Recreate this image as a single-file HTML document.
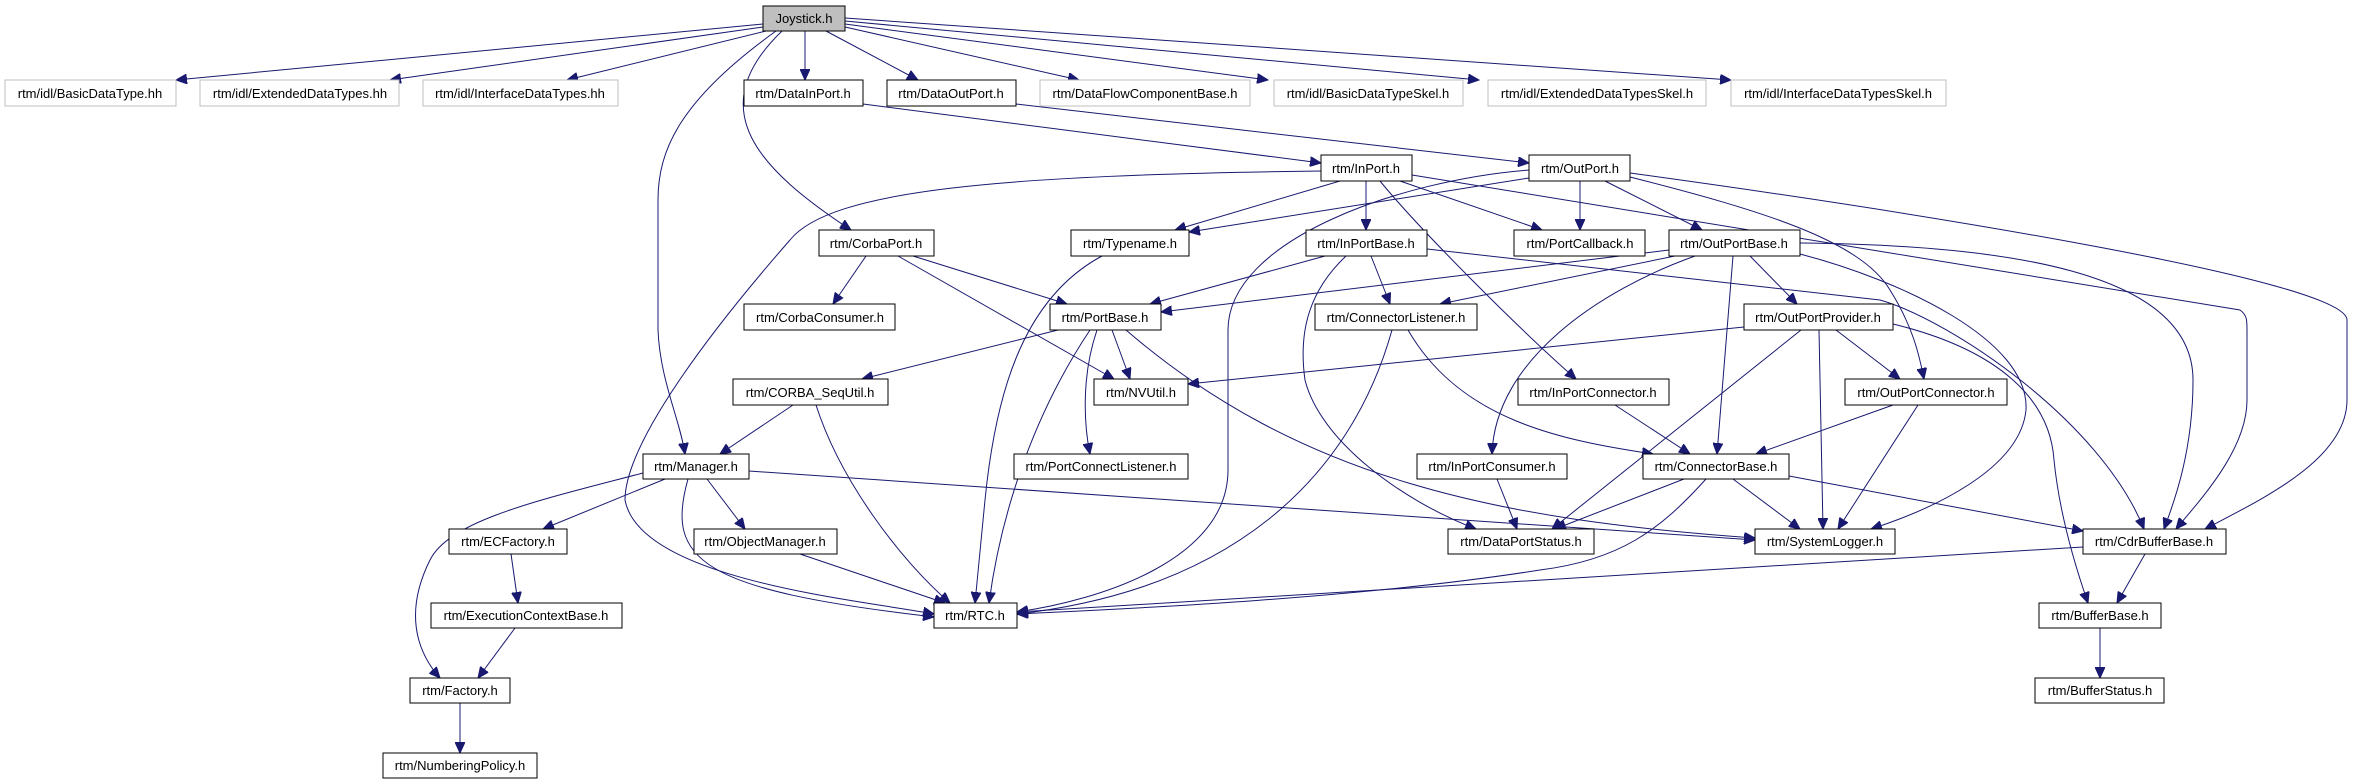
<!DOCTYPE html>
<html><head><meta charset="utf-8"><style>
html,body{margin:0;padding:0;background:#fff;}
svg{display:block;}
text{font-family:"Liberation Sans",sans-serif;font-size:13px;fill:#000;text-anchor:middle;}
.n{fill:#fff;stroke:#000;stroke-width:1;}
.g{fill:#fff;stroke:#bfbfbf;stroke-width:1;}
.e{fill:none;stroke:#191970;stroke-width:1;marker-end:url(#a);}
</style></head><body>
<svg width="2355" height="784" viewBox="0 0 2355 784" xmlns="http://www.w3.org/2000/svg">
<defs><marker id="a" markerWidth="12" markerHeight="10" refX="11" refY="5" orient="auto" markerUnits="userSpaceOnUse"><path d="M0,0 L11,5 L0,10 z" fill="#191970" stroke="#191970"/></marker></defs>
<g>
<path class="e" d="M763,24 L176,80"/>
<path class="e" d="M763,27 L390,80"/>
<path class="e" d="M766,31 L567,80"/>
<path class="e" d="M805,31 L805,80"/>
<path class="e" d="M826,31 L918,80"/>
<path class="e" d="M845,27 L1079,80"/>
<path class="e" d="M845,24 L1268,80"/>
<path class="e" d="M845,21 L1479,80"/>
<path class="e" d="M845,18 L1731,80"/>
<path class="e" d="M782,31 C700,110 760,170 851,230"/>
<path class="e" d="M776,31 C680,100 658,150 658,200 L658,330 C660,380 680,420 685,454"/>
<path class="e" d="M863,104 L1321,163"/>
<path class="e" d="M1016,104 L1529,163"/>
<path class="e" d="M1321,171 C1000,175 830,190 790,240 C720,320 625,440 625,500 C640,580 860,600 934,614"/>
<path class="e" d="M1529,170 C1400,180 1228,240 1228,330 L1228,470 C1228,560 1100,600 1017,612"/>
<path class="e" d="M1340,181 L1175,230"/>
<path class="e" d="M1529,178 L1189,232"/>
<path class="e" d="M1366,181 L1366,230"/>
<path class="e" d="M1400,181 L1542,230"/>
<path class="e" d="M1380,181 C1420,230 1520,330 1576,379"/>
<path class="e" d="M1412,175 L2240,310 C2247,315 2247,320 2247,330 L2247,400 C2247,450 2200,500 2176,529"/>
<path class="e" d="M1630,173 C1900,210 2347,280 2347,320 L2347,400 C2347,460 2260,500 2205,529"/>
<path class="e" d="M1427,249 L1880,300 C1950,320 2100,420 2144,529"/>
<path class="e" d="M1800,243 C2000,245 2193,270 2193,380 C2193,450 2175,500 2164,529"/>
<path class="e" d="M1580,181 L1580,230"/>
<path class="e" d="M1605,181 L1702,230"/>
<path class="e" d="M1630,177 C1760,210 1860,240 1890,290 C1915,330 1920,360 1924,379"/>
<path class="e" d="M866,256 L833,304"/>
<path class="e" d="M913,256 L1067,304"/>
<path class="e" d="M898,256 L1114,379"/>
<path class="e" d="M1102,256 C1020,300 995,400 985,500 L975,603"/>
<path class="e" d="M1325,256 L1150,304"/>
<path class="e" d="M1371,256 L1390,304"/>
<path class="e" d="M1346,256 C1310,290 1298,330 1305,380 C1320,440 1400,500 1476,529"/>
<path class="e" d="M1669,250 L1161,312"/>
<path class="e" d="M1675,256 L1440,304"/>
<path class="e" d="M1750,256 L1797,304"/>
<path class="e" d="M1695,256 C1600,290 1495,360 1492,454"/>
<path class="e" d="M1733,256 L1717,454"/>
<path class="e" d="M1800,254 C1900,280 2030,340 2026,410 C2020,470 1930,510 1871,529"/>
<path class="e" d="M1058,330 L862,379"/>
<path class="e" d="M1112,330 L1130,379"/>
<path class="e" d="M1090,330 C1030,420 1000,520 989,603"/>
<path class="e" d="M1097,330 C1080,380 1085,430 1090,454"/>
<path class="e" d="M1126,330 C1300,480 1500,520 1755,538"/>
<path class="e" d="M1408,330 C1460,420 1560,440 1653,454"/>
<path class="e" d="M1392,330 C1350,480 1230,590 1017,614"/>
<path class="e" d="M1744,327 L1188,384"/>
<path class="e" d="M1836,330 L1900,379"/>
<path class="e" d="M1819,330 L1823,529"/>
<path class="e" d="M1801,330 L1552,529"/>
<path class="e" d="M1893,324 C2000,350 2050,400 2054,460 C2060,520 2080,580 2088,603"/>
<path class="e" d="M793,405 L720,454"/>
<path class="e" d="M816,405 C840,480 900,560 950,603"/>
<path class="e" d="M1615,405 L1690,454"/>
<path class="e" d="M1893,405 L1756,454"/>
<path class="e" d="M1918,405 L1838,529"/>
<path class="e" d="M665,479 L543,529"/>
<path class="e" d="M707,479 L745,529"/>
<path class="e" d="M688,479 C665,560 700,590 934,617"/>
<path class="e" d="M643,473 C540,500 450,520 430,560 C405,610 415,650 440,678"/>
<path class="e" d="M749,471 L1755,540"/>
<path class="e" d="M511,554 L518,603"/>
<path class="e" d="M800,554 L945,603"/>
<path class="e" d="M515,628 L478,678"/>
<path class="e" d="M460,703 L460,753"/>
<path class="e" d="M1497,479 L1517,529"/>
<path class="e" d="M1684,479 L1555,529"/>
<path class="e" d="M1733,479 L1800,529"/>
<path class="e" d="M1789,476 L2083,531"/>
<path class="e" d="M1706,479 C1660,530 1620,560 1540,570 C1350,600 1100,610 1017,614"/>
<path class="e" d="M2083,547 L1017,612"/>
<path class="e" d="M2145,554 L2117,603"/>
<path class="e" d="M2100,628 L2100,678"/>
</g>
<g>
<rect x="763" y="6" width="82" height="25" fill="#bfbfbf" stroke="#000"/><text x="804" y="23">Joystick.h</text>
<rect class="g" x="5" y="80" width="171" height="26"/><text x="90" y="98">rtm/idl/BasicDataType.hh</text>
<rect class="g" x="200" y="80" width="199" height="26"/><text x="300" y="98">rtm/idl/ExtendedDataTypes.hh</text>
<rect class="g" x="423" y="80" width="195" height="26"/><text x="520" y="98">rtm/idl/InterfaceDataTypes.hh</text>
<rect class="n" x="744" y="80" width="119" height="26"/><text x="803" y="98">rtm/DataInPort.h</text>
<rect class="n" x="887" y="80" width="129" height="26"/><text x="951" y="98">rtm/DataOutPort.h</text>
<rect class="g" x="1040" y="80" width="210" height="26"/><text x="1145" y="98">rtm/DataFlowComponentBase.h</text>
<rect class="g" x="1274" y="80" width="189" height="26"/><text x="1368" y="98">rtm/idl/BasicDataTypeSkel.h</text>
<rect class="g" x="1488" y="80" width="218" height="26"/><text x="1597" y="98">rtm/idl/ExtendedDataTypesSkel.h</text>
<rect class="g" x="1731" y="80" width="215" height="26"/><text x="1838" y="98">rtm/idl/InterfaceDataTypesSkel.h</text>
<rect class="n" x="1321" y="155" width="91" height="26"/><text x="1366" y="173">rtm/InPort.h</text>
<rect class="n" x="1529" y="155" width="101" height="26"/><text x="1580" y="173">rtm/OutPort.h</text>
<rect class="n" x="819" y="230" width="115" height="26"/><text x="876" y="248">rtm/CorbaPort.h</text>
<rect class="n" x="1071" y="230" width="118" height="26"/><text x="1130" y="248">rtm/Typename.h</text>
<rect class="n" x="1306" y="230" width="121" height="26"/><text x="1366" y="248">rtm/InPortBase.h</text>
<rect class="n" x="1514" y="230" width="131" height="26"/><text x="1580" y="248">rtm/PortCallback.h</text>
<rect class="n" x="1669" y="230" width="131" height="26"/><text x="1734" y="248">rtm/OutPortBase.h</text>
<rect class="n" x="744" y="304" width="151" height="26"/><text x="820" y="322">rtm/CorbaConsumer.h</text>
<rect class="n" x="1050" y="304" width="111" height="26"/><text x="1105" y="322">rtm/PortBase.h</text>
<rect class="n" x="1315" y="304" width="162" height="26"/><text x="1396" y="322">rtm/ConnectorListener.h</text>
<rect class="n" x="1744" y="304" width="149" height="26"/><text x="1818" y="322">rtm/OutPortProvider.h</text>
<rect class="n" x="733" y="379" width="155" height="26"/><text x="810" y="397">rtm/CORBA_SeqUtil.h</text>
<rect class="n" x="1094" y="379" width="94" height="26"/><text x="1141" y="397">rtm/NVUtil.h</text>
<rect class="n" x="1518" y="379" width="151" height="26"/><text x="1593" y="397">rtm/InPortConnector.h</text>
<rect class="n" x="1845" y="379" width="162" height="26"/><text x="1926" y="397">rtm/OutPortConnector.h</text>
<rect class="n" x="643" y="454" width="106" height="25"/><text x="696" y="471">rtm/Manager.h</text>
<rect class="n" x="1014" y="454" width="174" height="25"/><text x="1101" y="471">rtm/PortConnectListener.h</text>
<rect class="n" x="1417" y="454" width="150" height="25"/><text x="1492" y="471">rtm/InPortConsumer.h</text>
<rect class="n" x="1643" y="454" width="146" height="25"/><text x="1716" y="471">rtm/ConnectorBase.h</text>
<rect class="n" x="449" y="529" width="118" height="25"/><text x="508" y="546">rtm/ECFactory.h</text>
<rect class="n" x="694" y="529" width="143" height="25"/><text x="765" y="546">rtm/ObjectManager.h</text>
<rect class="n" x="1448" y="529" width="146" height="25"/><text x="1521" y="546">rtm/DataPortStatus.h</text>
<rect class="n" x="1755" y="529" width="140" height="25"/><text x="1825" y="546">rtm/SystemLogger.h</text>
<rect class="n" x="2083" y="529" width="143" height="25"/><text x="2154" y="546">rtm/CdrBufferBase.h</text>
<rect class="n" x="431" y="603" width="191" height="25"/><text x="526" y="620">rtm/ExecutionContextBase.h</text>
<rect class="n" x="934" y="603" width="83" height="25"/><text x="975" y="620">rtm/RTC.h</text>
<rect class="n" x="2039" y="603" width="122" height="25"/><text x="2100" y="620">rtm/BufferBase.h</text>
<rect class="n" x="410" y="678" width="100" height="25"/><text x="460" y="695">rtm/Factory.h</text>
<rect class="n" x="2035" y="678" width="129" height="25"/><text x="2100" y="695">rtm/BufferStatus.h</text>
<rect class="n" x="383" y="753" width="154" height="25"/><text x="460" y="770">rtm/NumberingPolicy.h</text>
</g>
</svg>
</body></html>
